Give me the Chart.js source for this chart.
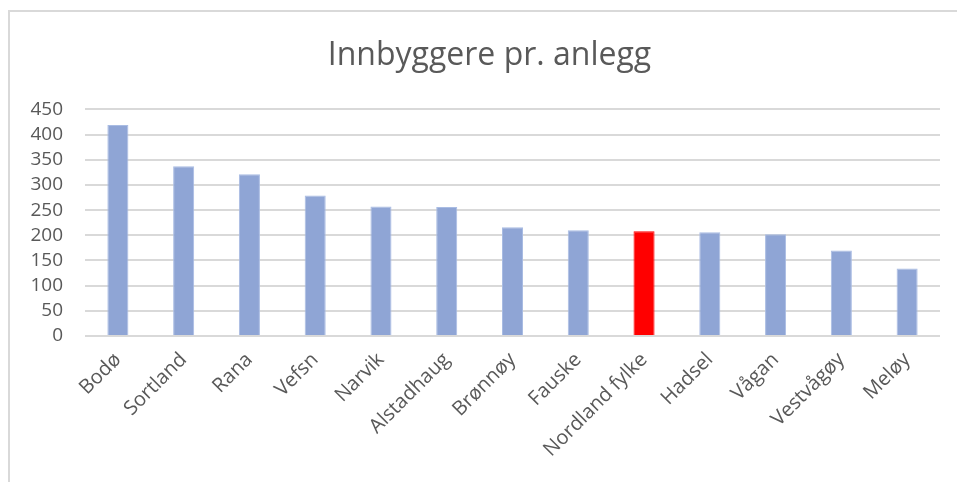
<!DOCTYPE html>
<html>
<head>
<meta charset="utf-8">
<script src="https://cdn.jsdelivr.net/npm/chart.js@4"></script>
<style>
  html, body { margin: 0; padding: 0; background: #fff; }
  #wrap { position: relative; width: 957px; height: 482px; overflow: hidden; }
  #frame { position: absolute; left: 8px; top: 10px; width: 980px; height: 500px;
           border-left: 2px solid #d9d9d9; border-top: 2px solid #d9d9d9; }
  #chart { position: absolute; left: 0; top: 0; }
</style>
</head>
<body>
<div id="wrap">
  <div id="frame"></div>
  <canvas id="chart" width="957" height="482"></canvas>
</div>
<script>
// data
const kommuner = ['Bodø', 'Sortland', 'Rana', 'Vefsn', 'Narvik', 'Alstadhaug', 'Brønnøy',
  'Fauske', 'Nordland fylke', 'Hadsel', 'Vågan', 'Vestvågøy', 'Meløy'];
const innbyggere = [419, 337, 321, 279, 257, 256, 216, 210, 208, 206, 202, 170, 134];
const fylkeNavn = 'Nordland fylke';
const yTicks = [0, 50, 100, 150, 200, 250, 300, 350, 400, 450];

const blue = '#8FA5D5';
const red = '#FF0000';
const textColor = '#595959';

const barColors = kommuner.map(k => k === fylkeNavn ? red : blue);
const borderColors = kommuner.map(k => k === fylkeNavn ? red : '#A9BCE3');

const ctx = document.getElementById('chart');

new Chart(ctx, {
  type: 'bar',
  data: {
    labels: kommuner,
    datasets: [{
      label: 'Innbyggere pr. anlegg',
      data: innbyggere,
      backgroundColor: barColors,
      borderColor: borderColors,
      borderWidth: 1,
      categoryPercentage: 0.64,
      barPercentage: 0.5,
    }],
  },
  options: {
    responsive: false,
    animation: false,
    layout: { padding: { left: 22, right: 0, top: 0, bottom: 0 } },
    plugins: {
      legend: { display: false },
      tooltip: { enabled: false },
      title: {
        display: true,
        text: 'Innbyggere pr. anlegg',
        color: textColor,
        font: { family: 'Open Sans', size: 32, weight: 'normal', lineHeight: 1.2 },
        padding: { top: 37, bottom: 34 },
      },
    },
    scales: {
      x: {
        grid: { display: false },
        border: { display: false },
        ticks: {
          color: textColor,
          font: { family: 'Open Sans', size: 20 },
          minRotation: 45,
          maxRotation: 45,
          autoSkip: false,
          padding: 4,
        },
        afterFit: scale => { scale.height = 146; },
      },
      y: {
        min: 0,
        max: 450,
        afterBuildTicks: scale => { scale.ticks = yTicks.map(v => ({ value: v })); },
        grid: { color: '#d9d9d9', lineWidth: 2, drawTicks: false },
        border: { display: false },
        ticks: {
          color: textColor,
          font: { family: 'Open Sans', size: 19 },
          padding: 22,
          autoSkip: false,
        },
        afterFit: scale => { scale.width = 63; },
      },
      // empty right axis, only keeps a gap after the last bar
      yRight: {
        position: 'right',
        display: true,
        grid: { display: false },
        border: { display: false },
        ticks: { display: false },
        afterFit: scale => { scale.width = 17; },
      },
    },
  },
});
</script>
</body>
</html>
